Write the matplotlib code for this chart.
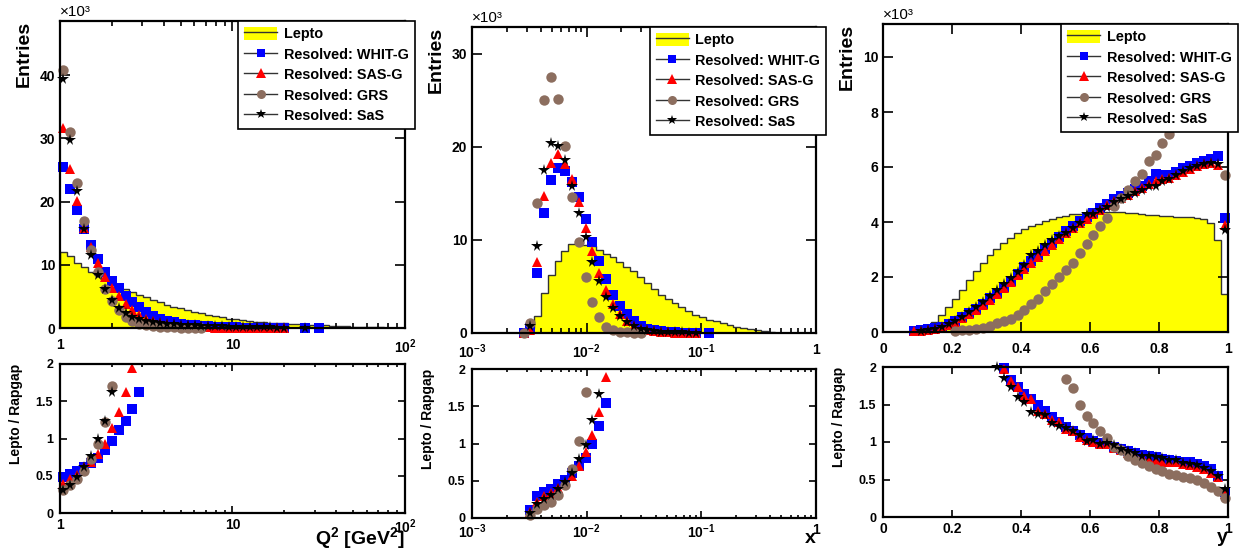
import numpy as np
import matplotlib
matplotlib.use("Agg")
import matplotlib.pyplot as plt
from matplotlib.patches import Patch
from matplotlib.lines import Line2D
from matplotlib.ticker import LogLocator, NullFormatter

plt.rcParams['font.family'] = ['Liberation Sans', 'DejaVu Sans']
plt.rcParams['font.weight'] = 'bold'
plt.rcParams['mathtext.fontset'] = 'custom'
plt.rcParams['mathtext.rm'] = 'Liberation Sans:bold'
plt.rcParams['mathtext.it'] = 'Liberation Sans:bold'
plt.rcParams['mathtext.bf'] = 'Liberation Sans:bold'
plt.rcParams['mathtext.sf'] = 'Liberation Sans:bold'

# ---- binning (50 bins per variable) ----
q2_edges = np.logspace(0, 2, 51)
x_edges = np.logspace(-3, 0, 51)
y_edges = np.linspace(0, 1, 51)

names = ["Resolved: WHIT-G", "Resolved: SAS-G", "Resolved: GRS", "Resolved: SaS"]

# ---- Q2 distribution (x10^3 entries), lists start at given bin ----
q2_lepto = [12.06, 11.4, 10.3, 9.7, 8.9, 8.4, 7.7, 7.05, 6.6, 6.2, 5.7, 5.2, 4.85, 4.4, 4.05,
            3.64, 3.37, 3.1, 2.85, 2.58, 2.32, 2.06, 1.9, 1.69, 1.48, 1.37, 1.21, 1.11, 1.0,
            0.92, 0.85, 0.78, 0.72, 0.66, 0.6, 0.55, 0.5, 0.45, 0.4, 0.35, 0.3, 0.26, 0.22,
            0.18, 0.14, 0.11, 0.08, 0.05, 0.03, 0.02]
q2_whitg = [25.5, 22.0, 18.7, 15.6, 13.1, 11.0, 8.9, 7.4, 6.3, 5.1, 4.1, 3.4, 2.6, 1.9, 1.5,
            1.15, 0.9, 0.7, 0.55, 0.42, 0.33, 0.25, 0.2, 0.15, 0.12, 0.09, 0.07, 0.05, 0.04,
            0.03, 0.02, 0.02, 0.01, None, None, 0.05, None, 0.05]
q2_sasg = [31.6, 25.2, 20.1, 15.9, 12.9, 10.3, 8.1, 6.3, 5.1, 3.8, 2.8, 2.0, 1.5, 1.1, 0.8,
           0.6, 0.45, 0.33, 0.25, 0.18, 0.13, 0.1, 0.07, 0.05, 0.04, 0.03, 0.02, 0.02, 0.01,
           0.01, 0.01, 0.01, 0.01]
q2_grs = [40.9, 31.0, 23.0, 17.0, 12.3, 8.8, 6.2, 4.3, 2.9, 1.75, 1.1, 0.7, 0.45, 0.3, 0.2,
          0.13, 0.09, 0.06, 0.04, 0.03, 0.02]
q2_sas = [39.4, 29.8, 21.7, 15.6, 11.6, 8.4, 6.2, 4.4, 3.2, 2.4, 1.75, 1.4, 1.1, 0.95, 0.8,
          0.7, 0.6, 0.5, 0.45, 0.4, 0.35, 0.3, 0.27, 0.24, 0.2, 0.18, 0.15, 0.13, 0.11, 0.1,
          0.08, 0.07, 0.06, None, None, 0.03]
q2_start = [0, 0, 0, 0]
q2r_whitg = [0.48, 0.52, 0.56, 0.62, 0.67, 0.74, 0.84, 0.97, 1.11, 1.24, 1.40, 1.62]
q2r_sasg = [0.39, 0.46, 0.51, 0.62, 0.69, 0.79, 0.92, 1.14, 1.36, 1.63, 1.95]
q2r_grs = [0.31, 0.37, 0.46, 0.57, 0.72, 0.92, 1.22, 1.70]
q2r_sas = [0.31, 0.38, 0.48, 0.62, 0.76, 0.99, 1.23, 1.63]
q2r_start = [0, 0, 0, 0]

# ---- x distribution ----
x_lepto_start = 8
x_lepto = [0.5, 1.79, 4.29, 6.25, 7.75, 8.86, 9.54, 9.64, 9.46, 9.36, 8.93, 8.5, 8.14, 7.6,
           7.14, 6.68, 6.0, 5.36, 4.71, 4.04, 3.64, 3.21, 2.79, 2.32, 1.96, 1.71, 1.43, 1.25,
           1.05, 0.85, 0.65, 0.5, 0.38, 0.27, 0.18, 0.1, 0.05, 0.02]
x_whitg = [0.0, 0.5, 6.4, 12.9, 16.4, 17.7, 17.4, 16.2, 14.6, 12.3, 9.8, 7.7, 5.8, 4.1, 2.9,
           2.0, 1.3, 0.8, 0.45, 0.3, 0.2, 0.12, 0.08, 0.05, 0.04, 0.03, None, 0.02]
x_sasg = [0.0, 0.35, 7.6, 14.75, 18.3, 19.2, 18.2, 16.6, 14.1, 11.25, 8.85, 6.4, 4.6, 3.1, 2.0,
          1.25, 0.8, 0.45, 0.3, 0.2, 0.12, 0.08, 0.05, 0.04, 0.03, 0.02]
x_grs = [0.0, 1.1, 14.0, 25.1, 27.5, 25.2, 20.1, 14.6, 9.75, 6.0, 3.3, 1.7, 0.65, 0.3, 0.15,
         0.1, 0.05, 0.03]
x_sas = [0.8, 9.4, 17.5, 20.4, 20.1, 18.6, 15.8, 12.9, 10.3, 7.6, 5.6, 3.9, 2.7, 1.8, 1.15,
         0.7, 0.45, 0.3, 0.2, 0.15, 0.1, 0.08, 0.06, 0.05, 0.04]
x_start = [7, 7, 7, 8]
xr_whitg = [0.11, 0.29, 0.35, 0.39, 0.45, 0.51, 0.61, 0.70, 0.81, 1.0, 1.24, 1.54]
xr_sasg = [0.08, 0.22, 0.29, 0.34, 0.40, 0.47, 0.56, 0.70, 0.88, 1.11, 1.42, 1.89]
xr_grs = [0.04, 0.12, 0.17, 0.22, 0.31, 0.44, 0.66, 1.03, 1.69]
xr_sas = [0.07, 0.19, 0.25, 0.31, 0.39, 0.48, 0.61, 0.79, 0.98, 1.31, 1.67]
xr_start = [8, 8, 8, 8]

# ---- y distribution ----
y_lepto = [0, 0, 0, 0, 0.02, 0.08, 0.2, 0.36, 0.61, 0.91, 1.21, 1.54, 1.88, 2.22, 2.51, 2.79,
           3.03, 3.24, 3.43, 3.6, 3.75, 3.86, 3.94, 4.04, 4.11, 4.18, 4.23, 4.28, 4.30, 4.33,
           4.35, 4.36, 4.37, 4.36, 4.35, 4.33, 4.31, 4.28, 4.26, 4.24, 4.23, 4.22, 4.2, 4.19,
           4.18, 4.16, 4.1, 3.97, 3.33, 1.4]
y_whitg = [0.05, 0.07, 0.1, 0.14, 0.2, 0.28, 0.4, 0.53, 0.68, 0.85, 1.02, 1.22, 1.42, 1.62,
           1.85, 2.1, 2.35, 2.58, 2.8, 3.02, 3.25, 3.47, 3.66, 3.85, 4.02, 4.17, 4.33, 4.5,
           4.66, 4.82, 4.95, 5.07, 5.2, 5.32, 5.48, 5.75, 5.7, 5.72, 5.82, 5.97, 6.05, 6.15,
           6.22, 6.3, 6.4, 4.15]
y_sasg = [0.03, 0.04, 0.06, 0.11, 0.17, 0.26, 0.37, 0.50, 0.65, 0.81, 0.98, 1.18, 1.39, 1.6,
          1.82, 2.06, 2.29, 2.52, 2.74, 2.95, 3.17, 3.39, 3.59, 3.78, 3.96, 4.12, 4.30, 4.45,
          4.61, 4.77, 4.89, 5.0, 5.13, 5.25, 5.4, 5.49, 5.55, 5.61, 5.7, 5.82, 5.94, 6.03,
          6.1, 6.15, 6.06, 3.88]
y_grs = [0.04, 0.06, 0.09, 0.12, 0.16, 0.22, 0.31, 0.39, 0.49, 0.63, 0.79, 1.01, 1.21, 1.49,
         1.76, 2.0, 2.24, 2.51, 2.87, 3.21, 3.52, 3.84, 4.16, 4.57, 4.89, 5.18, 5.49, 5.76,
         6.22, 6.45, 6.87, 7.21, 7.6, 8.0, 8.4, 8.7, 9.0, 9.2, 9.4, 5.7]
y_sas = [0.05, 0.07, 0.12, 0.18, 0.28, 0.4, 0.55, 0.72, 0.9, 1.1, 1.3, 1.52, 1.73, 1.95, 2.2,
         2.45, 2.8, 2.95, 3.15, 3.35, 3.5, 3.6, 3.8, 3.95, 4.3, 4.3, 4.45, 4.55, 4.72, 4.85,
         4.95, 5.05, 5.15, 5.3, 5.32, 5.5, 5.55, 5.7, 5.85, 5.95, 6.05, 6.1, 6.15, 6.12, 3.7]
y_start = [4, 4, 10, 5]
yr_whitg = [1.99, 1.83, 1.73, 1.64, 1.57, 1.5, 1.42, 1.33, 1.27, 1.2, 1.15, 1.1, 1.06, 1.02,
            0.99, 0.97, 0.93, 0.91, 0.88, 0.85, 0.83, 0.81, 0.8, 0.78, 0.76, 0.75, 0.74, 0.73,
            0.71, 0.68, 0.64, 0.55, 0.34]
yr_sasg = [1.97, 1.82, 1.74, 1.62, 1.57, 1.42, 1.37, 1.29, 1.27, 1.17, 1.15, 1.07, 1.03, 1.0,
           0.98, 0.97, 0.92, 0.9, 0.85, 0.82, 0.8, 0.78, 0.76, 0.74, 0.73, 0.73, 0.71, 0.7,
           0.67, 0.64, 0.59, 0.53, 0.31]
yr_grs = [1.84, 1.72, 1.5, 1.35, 1.26, 1.15, 1.06, 0.94, 0.9, 0.82, 0.76, 0.72, 0.68, 0.64,
          0.62, 0.58, 0.56, 0.54, 0.52, 0.49, 0.45, 0.4, 0.35, 0.25]
yr_sas = [2.0, 1.85, 1.73, 1.6, 1.54, 1.4, 1.38, 1.36, 1.25, 1.21, 1.19, 1.15, 1.09, 1.02,
          1.03, 0.98, 0.99, 0.96, 0.91, 0.88, 0.85, 0.82, 0.81, 0.8, 0.79, 0.76, 0.76, 0.72,
          0.71, 0.69, 0.65, 0.61, 0.55, 0.38]
yr_start = [17, 17, 26, 16]

styles = [dict(marker='s', color='#0000ff', ms=7),
          dict(marker='^', color='#ff0000', ms=7.5),
          dict(marker='o', color='#8c6e5f', ms=7.5),
          dict(marker='*', color='black', ms=8.5)]
legend_ms = [6, 6.5, 6.5, 7]
yellow = '#ffff00'
dark = '#333333'


def centers_of(edges, log):
    if log:
        return np.sqrt(edges[:-1] * edges[1:])
    return 0.5 * (edges[:-1] + edges[1:])


def draw_points(ax, cen, series, starts):
    for vals, s0, st in zip(series, starts, styles):
        v = np.array([np.nan if a is None else a for a in vals], dtype=float)
        ax.plot(cen[s0:s0 + len(v)], v, ls='none', clip_on=False, mew=0, **st)


def style_axes(ax, log, big):
    if log:
        ax.set_xscale('log')
        ax.xaxis.set_minor_locator(LogLocator(base=10, subs=np.arange(2, 10)))
        ax.xaxis.set_minor_formatter(NullFormatter())
    maj = 7.5 if big else 5
    ax.tick_params(which='both', direction='in', top=True, right=True, width=1.2)
    ax.tick_params(which='major', length=maj)
    ax.tick_params(which='minor', length=maj / 2)
    ax.tick_params(axis='x', pad=7 if big else 3.5, labelsize=10)
    ax.tick_params(axis='y', pad=3.5 if big else 5, labelsize=10 if big else 9)
    for sp in ax.spines.values():
        sp.set_linewidth(1.6)


fig = plt.figure(figsize=(12.54, 5.56), dpi=100)
W, H = 1254.0, 556.0


def add(left, top, right, bottom):
    return fig.add_axes([left / W, 1 - bottom / H, (right - left) / W, (bottom - top) / H])


tops = [add(60, 21, 405, 328), add(472, 27, 816, 333), add(883, 24, 1228, 332)]
bots = [add(60, 364, 405, 513), add(472, 369, 816, 518), add(883, 367, 1228, 517)]

panels = [
    dict(edges=q2_edges, log=True, lepto=q2_lepto, l0=0,
         series=[q2_whitg, q2_sasg, q2_grs, q2_sas], starts=q2_start,
         ratio=[q2r_whitg, q2r_sasg, q2r_grs, q2r_sas], rstarts=q2r_start,
         xlim=(1, 100), ylim=48.6, yt=[0, 10, 20, 30, 40],
         xt=[1, 10, 100], xtl=['1', '10', '$10^{2}$'], xlabel='Q$^{2}$ [GeV$^{2}$]'),
    dict(edges=x_edges, log=True, lepto=x_lepto, l0=x_lepto_start,
         series=[x_whitg, x_sasg, x_grs, x_sas], starts=x_start,
         ratio=[xr_whitg, xr_sasg, xr_grs, xr_sas], rstarts=xr_start,
         xlim=(1e-3, 1), ylim=32.9, yt=[0, 10, 20, 30],
         xt=[1e-3, 1e-2, 1e-1, 1], xtl=['$10^{-3}$', '$10^{-2}$', '$10^{-1}$', '1'], xlabel='x'),
    dict(edges=y_edges, log=False, lepto=y_lepto, l0=0,
         series=[y_whitg, y_sasg, y_grs, y_sas], starts=y_start,
         ratio=[yr_whitg, yr_sasg, yr_grs, yr_sas], rstarts=yr_start,
         xlim=(0, 1), ylim=11.2, yt=[0, 2, 4, 6, 8, 10],
         xt=[0, 0.2, 0.4, 0.6, 0.8, 1], xtl=['0', '0.2', '0.4', '0.6', '0.8', '1'], xlabel='y'),
]

for ax, rax, p in zip(tops, bots, panels):
    edges = p['edges']
    cen = centers_of(edges, p['log'])
    le = edges[p['l0']:p['l0'] + len(p['lepto']) + 1]
    ax.stairs(p['lepto'], le, fill=True, color=yellow, zorder=1)
    ax.stairs(p['lepto'], le, color=dark, lw=1.0, zorder=1.5)
    draw_points(ax, cen, p['series'], p['starts'])
    style_axes(ax, p['log'], True)
    ax.set_xlim(*p['xlim'])
    ax.set_ylim(0, p['ylim'])
    ax.set_xticks(p['xt'])
    ax.set_xticklabels(p['xtl'])
    ax.set_yticks(p['yt'])
    ax.set_yticklabels([str(t) for t in p['yt']])
    ax.set_ylabel('Entries', loc='top', fontsize=14, fontweight='bold')
    ax.yaxis.set_label_coords(-0.078, 1.0)
    ax.text(0, 1.006, '×10³', transform=ax.transAxes, ha='left', va='bottom',
            fontsize=11, fontweight='normal')

    handles = [(Patch(facecolor=yellow, edgecolor='none'), Line2D([], [], color=dark, lw=1))]
    for st, lms in zip(styles, legend_ms):
        handles.append(Line2D([], [], color=dark, lw=1, marker=st['marker'], ms=lms,
                              mfc=st['color'], mec=st['color'], mew=0))
    leg = ax.legend(handles, ['Lepto'] + names, loc='upper left', bbox_to_anchor=(0.517, 1.0),
                    borderaxespad=0, fancybox=False, framealpha=1, edgecolor='black',
                    prop=dict(weight='bold', size=10.4), handlelength=2.3, handleheight=1.0,
                    handletextpad=0.45, borderpad=0.4, labelspacing=0.42)
    leg.get_frame().set_linewidth(1.2)

    draw_points(rax, cen, p['ratio'], p['rstarts'])
    style_axes(rax, p['log'], False)
    rax.set_xlim(*p['xlim'])
    rax.set_ylim(0, 2)
    rax.set_xticks(p['xt'])
    rax.set_xticklabels(p['xtl'])
    rax.set_yticks([0, 0.5, 1, 1.5, 2])
    rax.set_yticklabels(['0', '0.5', '1', '1.5', '2'])
    rax.set_ylabel('Lepto / Rapgap', loc='top', fontsize=10, fontweight='bold')
    rax.yaxis.set_label_coords(-0.107, 1.0)
    rax.set_xlabel(p['xlabel'], loc='right', fontsize=14, fontweight='bold')
    rax.xaxis.set_label_coords(1.0, -0.08)

fig.savefig('out.png', dpi=100)
